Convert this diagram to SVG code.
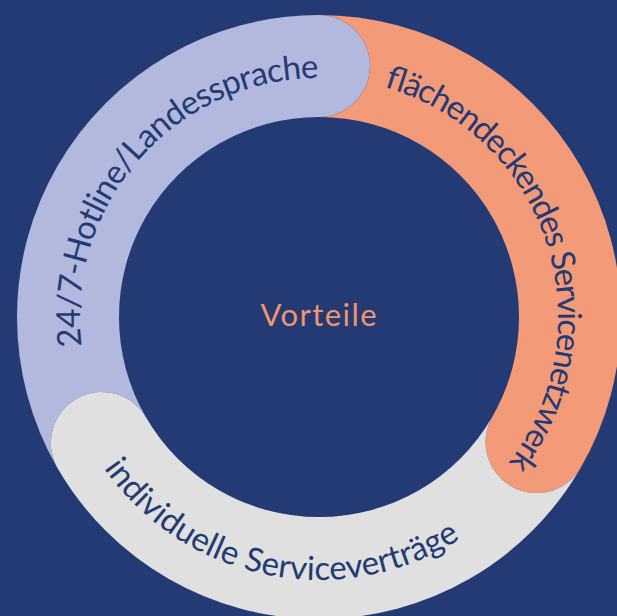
<svg xmlns="http://www.w3.org/2000/svg" width="617" height="616" viewBox="0 0 617 616">
  <style>
    .ring-text { font-family: Lato, "Noto Sans", "Liberation Sans", sans-serif; font-size: 33px; fill: #233a74; }
    .center-text { font-family: Lato, "Noto Sans", "Liberation Sans", sans-serif; font-size: 31px; fill: #f0956f; }
  </style>
  <defs>
    <path id="p-hotline" d="M81.78,346.13 A239,239 0 0,1 360.5,81.63" fill="none"/>
    <path id="p-netz" d="M382.87,86.69 A239,239 0 0,1 488,486" fill="none"/>
    <path id="p-vertrag" d="M103.83,468.23 A263,263 0 0,0 488.05,518.47" fill="none"/>
  </defs>
  <rect x="0" y="0" width="617" height="616" fill="#233a74"/>
  <g id="connectors"/>
  <g id="node-hotline">
    <path d="M57.46,468 A302,302 0 0,1 319,15 A51,51 0 0,1 319,117 A200,200 0 0,0 145.79,417 A51,51 0 0,0 57.46,468 Z" fill="#b2b8de"/>
    <text class="ring-text"><textPath href="#p-hotline" textLength="404" lengthAdjust="spacing">24/7-Hotline/Landessprache</textPath></text>
  </g>
  <g id="node-servicenetz">
    <path d="M319,15 A302,302 0 0,1 580.54,468 A51,51 0 0,1 492.21,417 A200,200 0 0,0 319,117 A51,51 0 0,0 319,15 Z" fill="#f39a78"/>
    <text class="ring-text"><textPath href="#p-netz" textLength="466" lengthAdjust="spacing">flächendeckendes Servicenetzwerk</textPath></text>
  </g>
  <g id="node-vertraege">
    <path d="M580.54,468 A302,302 0 0,1 57.46,468 A51,51 0 0,1 145.79,417 A200,200 0 0,0 492.21,417 A51,51 0 0,0 580.54,468 Z" fill="#dfe0df"/>
    <text class="ring-text"><textPath href="#p-vertrag" textLength="401" lengthAdjust="spacing">individuelle Serviceverträge</textPath></text>
  </g>
  <g id="node-center">
    <text class="center-text" x="318.5" y="325.7" text-anchor="middle" textLength="116" lengthAdjust="spacing">Vorteile</text>
  </g>
</svg>
